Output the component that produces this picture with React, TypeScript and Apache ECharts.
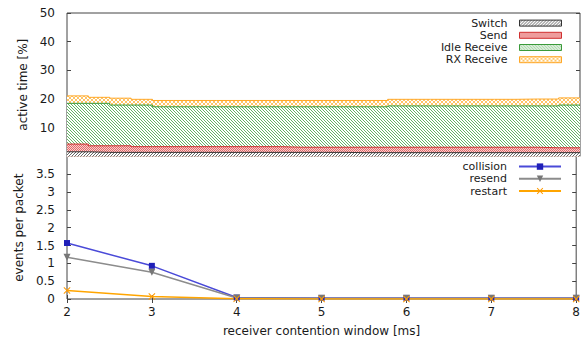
import { useEffect, useRef } from 'react';
import * as echarts from 'echarts';

// Receiver contention window (ms) sampled for the activity breakdown
const windowMs = [2, 2.25, 2.5, 2.75, 3, 3.25, 3.5, 3.75, 4, 4.25, 4.5, 4.75, 5, 5.25, 5.5, 5.75, 6, 6.25, 6.5, 6.75, 7, 7.25, 7.5, 7.75, 8];

// Share of active time per radio state [%]
const switchPct = [1.6, 1.4, 1.4, 1.4, 1.4, 1.4, 1.4, 1.4, 1.4, 1.4, 1.4, 1.4, 1.4, 1.3, 1.3, 1.3, 1.3, 1.3, 1.3, 1.3, 1.3, 1.3, 1.3, 1.3, 1.3];
const sendPct = [2.7, 2.3, 2.3, 2.0, 2.0, 2.0, 2.0, 2.0, 2.0, 2.0, 1.8, 1.8, 1.8, 1.9, 1.9, 1.9, 1.9, 1.9, 1.9, 1.9, 1.9, 1.9, 1.7, 1.7, 1.7];
const idlePct = [14.2, 14.8, 14.2, 14.5, 13.9, 13.9, 13.9, 13.9, 13.9, 13.9, 14.1, 14.1, 14.1, 14.1, 14.1, 14.4, 14.4, 14.4, 14.4, 14.4, 14.4, 14.4, 14.6, 14.9, 14.9];
const rxPct = [2.6, 2.1, 2.4, 2.0, 2.2, 2.2, 2.2, 2.2, 2.2, 2.2, 2.2, 2.2, 2.2, 2.2, 2.2, 2.3, 2.3, 2.3, 2.3, 2.3, 2.3, 2.4, 2.4, 2.5, 2.5];

// Events per packet at each integer window
const windowTicks = [2, 3, 4, 5, 6, 7, 8];
const collision = [1.57, 0.93, 0.04, 0.03, 0.03, 0.03, 0.03];
const resend = [1.17, 0.75, 0.03, 0.02, 0.02, 0.02, 0.02];
const restart = [0.24, 0.07, 0.01, 0, 0, 0, 0];

const FONT = 'DejaVu Sans';
const FS = 12;
const AXIS = '#444444';
const TEXT = '#1a1a1a';

// Small bitmap tiles used as hatch fills
function tile(size: number, bg: string, fg: string, on: (x: number, y: number) => boolean) {
  const c = document.createElement('canvas');
  c.width = size;
  c.height = size;
  const ctx = c.getContext('2d')!;
  ctx.fillStyle = bg;
  ctx.fillRect(0, 0, size, size);
  ctx.fillStyle = fg;
  for (let y = 0; y < size; y++) {
    for (let x = 0; x < size; x++) {
      if (on(x, y)) ctx.fillRect(x, y, 1, 1);
    }
  }
  return { image: c.toDataURL(), repeat: 'repeat', imageWidth: size, imageHeight: size } as any;
}

function pair(xs: number[], ys: number[]) {
  return xs.map((x, i) => [x, ys[i]]);
}

export default function App() {
  const ref = useRef<HTMLDivElement>(null);

  useEffect(() => {
    if (!ref.current) return;
    const chart = echarts.init(ref.current, null, { renderer: 'svg' });

    const switchFill = tile(3, '#ffffff', '#666666', (x, y) => x + y === 2);
    const sendFill = tile(2, '#fad0d0', '#e26a6a', (x, y) => (x + y) % 2 === 0);
    const idleFill = tile(3, '#ffffff', '#62b462', (x, y) => x === y);
    const rxFill = tile(4, '#ffffff', '#ffc466', (x, y) => x === y || x + y === 3);

    const areas = [
      { name: 'Switch', data: switchPct, line: '#333333', fill: switchFill },
      { name: 'Send', data: sendPct, line: '#d03030', fill: sendFill },
      { name: 'Idle Receive', data: idlePct, line: '#3a9a3a', fill: idleFill },
      { name: 'RX Receive', data: rxPct, line: '#ffa726', fill: rxFill },
    ];

    // Running totals so each layer sits on the ones below it
    const tops: number[][] = [];
    areas.forEach((a, k) => {
      tops.push(a.data.map((v, i) => +(v + (k > 0 ? tops[k - 1][i] : 0)).toFixed(2)));
    });

    const lines = [
      { name: 'collision', data: collision, line: '#4a4ad8', mark: '#1f1fb8', symbol: 'rect', size: 6, rotate: 0 },
      { name: 'resend', data: resend, line: '#8c8c8c', mark: '#777777', symbol: 'triangle', size: 7, rotate: 180 },
      {
        name: 'restart',
        data: restart,
        line: '#ffa500',
        mark: '#ff9a00',
        symbol: 'path://M0,1L1,0L5,4L9,0L10,1L6,5L10,9L9,10L5,6L1,10L0,9L4,5Z',
        size: 7,
        rotate: 0,
      },
    ];

    const tickLabel = { color: TEXT, fontFamily: FONT, fontSize: FS };
    const nameStyle = { color: TEXT, fontFamily: FONT, fontSize: FS };
    const inTick = { show: true, inside: true, length: 4, lineStyle: { color: AXIS } };
    const legendText = { color: TEXT, fontFamily: FONT, fontSize: 11, lineHeight: 12.2, padding: [0, 7, 0, 0] };

    // Highest layer first, so lower layers paint over it
    const areaSeries = areas
      .map((a, k) => ({
        name: a.name,
        type: 'line',
        xAxisIndex: 0,
        yAxisIndex: 0,
        step: 'end',
        symbol: 'none',
        data: pair(windowMs, tops[k]),
        lineStyle: { color: a.line, width: 1 },
        itemStyle: { color: a.line },
        areaStyle: { color: a.fill, opacity: 1 },
      }))
      .reverse();

    chart.setOption({
      animation: false,
      backgroundColor: '#ffffff',
      textStyle: { fontFamily: FONT },
      grid: [
        { left: 67, right: 3, top: 13, height: 143.4, show: true, borderColor: AXIS, borderWidth: 1, backgroundColor: 'transparent' },
        { left: 67, right: 3, top: 156.4, bottom: 43, show: true, borderColor: AXIS, borderWidth: 1, backgroundColor: 'transparent' },
      ],
      legend: [
        {
          right: 16,
          top: 12,
          orient: 'vertical',
          align: 'right',
          itemWidth: 42,
          itemHeight: 6,
          itemGap: 0,
          selectedMode: false,
          textStyle: legendText,
          data: areas.map((a) => ({
            name: a.name,
            icon: 'rect',
            itemStyle: { color: a.fill, borderColor: a.line, borderWidth: 1 },
          })),
        },
        {
          right: 16,
          top: 155.5,
          orient: 'vertical',
          align: 'right',
          itemWidth: 42,
          itemHeight: 8,
          itemGap: 0,
          selectedMode: false,
          textStyle: legendText,
          data: lines.map((l) => l.name),
        },
      ],
      xAxis: [
        {
          gridIndex: 0, type: 'value', min: 2, max: 8, interval: 1,
          axisLine: { show: false }, axisTick: { show: false }, axisLabel: { show: false }, splitLine: { show: false },
        },
        {
          gridIndex: 1, type: 'value', min: 2, max: 8, interval: 1,
          axisLine: { show: false }, axisTick: inTick, splitLine: { show: false },
          axisLabel: { ...tickLabel, margin: 7 },
          name: 'receiver contention window [ms]', nameLocation: 'middle', nameGap: 26,
          nameTextStyle: nameStyle,
        },
        {
          gridIndex: 1, type: 'value', min: 2, max: 8, interval: 1, position: 'top',
          axisLine: { show: false }, axisTick: inTick, axisLabel: { show: false }, splitLine: { show: false },
        },
      ],
      yAxis: [
        {
          gridIndex: 0, type: 'value', min: 0, max: 50, interval: 10,
          axisLine: { show: false }, axisTick: inTick, splitLine: { show: false },
          axisLabel: { ...tickLabel, margin: 12, formatter: (v: number) => (v === 0 ? '' : String(v)) },
          name: 'active time [%]', nameLocation: 'middle', nameGap: 37,
          nameTextStyle: nameStyle,
        },
        {
          gridIndex: 0, type: 'value', min: 0, max: 50, interval: 10, position: 'right',
          axisLine: { show: false }, axisTick: inTick, axisLabel: { show: false }, splitLine: { show: false },
        },
        {
          gridIndex: 1, type: 'value', min: 0, max: 4, interval: 0.5,
          axisLine: { show: false }, axisTick: inTick, splitLine: { show: false },
          axisLabel: { ...tickLabel, margin: 12, formatter: (v: number) => (v === 4 ? '' : String(v)) },
          name: 'events per packet', nameLocation: 'middle', nameGap: 37,
          nameTextStyle: nameStyle,
        },
        {
          gridIndex: 1, type: 'value', min: 0, max: 4, interval: 0.5, position: 'right',
          axisLine: { show: false }, axisTick: inTick, axisLabel: { show: false }, splitLine: { show: false },
        },
      ],
      series: [
        ...areaSeries,
        ...lines.map((l) => ({
          name: l.name,
          type: 'line',
          xAxisIndex: 1,
          yAxisIndex: 2,
          data: pair(windowTicks, l.data),
          symbol: l.symbol,
          symbolSize: l.size,
          symbolRotate: l.rotate,
          showAllSymbol: true,
          lineStyle: { color: l.line, width: 1.5 },
          itemStyle: { color: l.mark },
        })),
      ],
    });

    return () => chart.dispose();
  }, []);

  return <div ref={ref} style={{ width: 583, height: 342, position: 'absolute', left: 0, top: 0 }} />;
}
